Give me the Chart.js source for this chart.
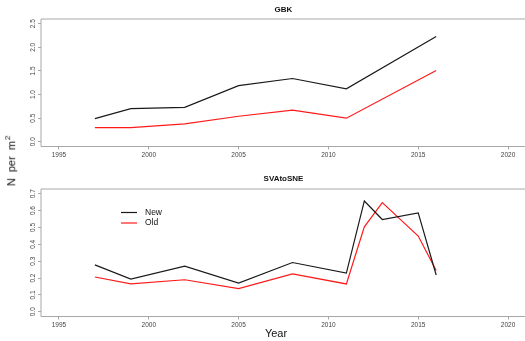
<!DOCTYPE html>
<html>
<head>
<meta charset="utf-8">
<script src="https://cdn.jsdelivr.net/npm/chart.js@4"></script>
<style>
  html, body { margin: 0; padding: 0; background: #fff; overflow: hidden; width: 525px; height: 341px; }
  canvas { position: absolute; left: 0; }
  #c1 { top: 0; }
  #c2 { top: 170px; }
  .lab { position: absolute; font-family: "Liberation Sans", Arial, sans-serif; color: #111; font-size: 11px; white-space: nowrap; }
  #ylab { left: -40px; top: 154px; width: 100px; text-align: center; transform: rotate(-90deg); word-spacing: 3px; }
  #ylab sup { font-size: 8px; margin-left: 1px; }
  #xlab { left: 251px; top: 327px; width: 50px; text-align: center; }
</style>
</head>
<body>
<canvas id="c1" width="527" height="170"></canvas>
<canvas id="c2" width="527" height="171"></canvas>
<div id="ylab" class="lab">N per m<sup>2</sup></div>
<div id="xlab" class="lab">Year</div>
<script>
// survey years and densities per region
const yearsGBK = [1997, 1999, 2002, 2005, 2008, 2011, 2016];
const gbkNew = [0.49, 0.70, 0.73, 1.19, 1.34, 1.12, 2.23];
const gbkOld = [0.30, 0.30, 0.38, 0.54, 0.67, 0.50, 1.51];

const yearsSNE = [1997, 1999, 2002, 2005, 2008, 2011, 2012, 2013, 2015, 2016];
const sneNew = [0.278, 0.194, 0.270, 0.170, 0.292, 0.229, 0.657, 0.547, 0.586, 0.218];
const sneOld = [0.206, 0.165, 0.190, 0.137, 0.225, 0.165, 0.504, 0.647, 0.449, 0.245];

const xTicks = [1995, 2000, 2005, 2010, 2015, 2020];
const yTicksGBK = [0, 0.5, 1.0, 1.5, 2.0, 2.5];
const yTicksSNE = [0, 0.1, 0.2, 0.3, 0.4, 0.5, 0.6, 0.7];

const FONT = '"Liberation Sans", Arial, sans-serif';
const AXIS_GREY = '#a8a8a8';
const TEXT_GREY = '#444';

function pts(xs, ys) {
  return xs.map((x, i) => ({ x: x, y: ys[i] }));
}

// frame, panel title, rotated y labels and optional legend
const panelDecor = {
  id: 'panelDecor',
  afterDraw(chart, args, opts) {
    const ctx = chart.ctx;
    const a = chart.chartArea;
    ctx.save();
    ctx.strokeStyle = AXIS_GREY;
    ctx.lineWidth = 1;
    ctx.beginPath();
    ctx.moveTo(a.right, a.top);
    ctx.lineTo(a.left, a.top);
    ctx.lineTo(a.left, a.bottom);
    ctx.lineTo(a.right, a.bottom);
    ctx.stroke();

    ctx.fillStyle = '#111';
    ctx.font = 'bold 8px ' + FONT;
    ctx.textAlign = 'center';
    ctx.textBaseline = 'middle';
    ctx.fillText(opts.title, (a.left + a.right) / 2, opts.titleY);

    const y = chart.scales.y;
    ctx.fillStyle = TEXT_GREY;
    ctx.font = '6.5px ' + FONT;
    y.ticks.forEach(t => {
      ctx.save();
      ctx.translate(33, y.getPixelForValue(t.value));
      ctx.rotate(-Math.PI / 2);
      ctx.fillText(t.value.toFixed(1), 0, 0);
      ctx.restore();
    });

    if (opts.legend) {
      ctx.font = '8.5px ' + FONT;
      ctx.textAlign = 'left';
      chart.data.datasets.forEach((ds, i) => {
        const ly = 42.5 + i * 10.5;
        ctx.strokeStyle = ds.borderColor;
        ctx.lineWidth = 1.2;
        ctx.beginPath();
        ctx.moveTo(121, ly);
        ctx.lineTo(137, ly);
        ctx.stroke();
        ctx.fillStyle = '#111';
        ctx.fillText(ds.label, 145, ly);
      });
    }
    ctx.restore();
  }
};

function renderPanel(canvasId, title, titleY, years, newVals, oldVals, yMin, yMax, yTicks, xHeight, legend) {
  const ctx = document.getElementById(canvasId).getContext('2d');
  return new Chart(ctx, {
    type: 'line',
    data: {
      datasets: [
        { label: 'New', data: pts(years, newVals), borderColor: '#1a1a1a', borderWidth: 1.2, pointRadius: 0, tension: 0, fill: false },
        { label: 'Old', data: pts(years, oldVals), borderColor: '#ff1a1a', borderWidth: 1.2, pointRadius: 0, tension: 0, fill: false }
      ]
    },
    options: {
      responsive: false,
      animation: false,
      devicePixelRatio: 1,
      layout: { padding: { left: 0, top: 19, right: 1, bottom: 0 } },
      plugins: {
        legend: { display: false },
        tooltip: { enabled: false },
        panelDecor: { title: title, titleY: titleY, legend: legend }
      },
      scales: {
        x: {
          type: 'linear',
          min: 1994,
          max: 2021,
          afterBuildTicks: s => { s.ticks = xTicks.map(v => ({ value: v })); },
          afterFit: s => { s.height = xHeight; },
          border: { display: false },
          grid: { drawOnChartArea: false, drawTicks: true, tickLength: 3, color: AXIS_GREY },
          ticks: {
            color: TEXT_GREY,
            padding: 2,
            maxRotation: 0,
            font: { family: FONT, size: 6.5 },
            callback: v => String(v)
          }
        },
        y: {
          min: yMin,
          max: yMax,
          afterBuildTicks: s => { s.ticks = yTicks.map(v => ({ value: v })); },
          afterFit: s => { s.width = 41; },
          border: { display: false },
          grid: { drawOnChartArea: false, drawTicks: true, tickLength: 3, color: AXIS_GREY },
          ticks: { display: false }
        }
      }
    },
    plugins: [panelDecor]
  });
}

renderPanel('c1', 'GBK', 10, yearsGBK, gbkNew, gbkOld, -0.1, 2.6, yTicksGBK, 23.5, false);
renderPanel('c2', 'SVAtoSNE', 9, yearsSNE, sneNew, sneOld, -0.028, 0.728, yTicksSNE, 24.5, true);
</script>
</body>
</html>
